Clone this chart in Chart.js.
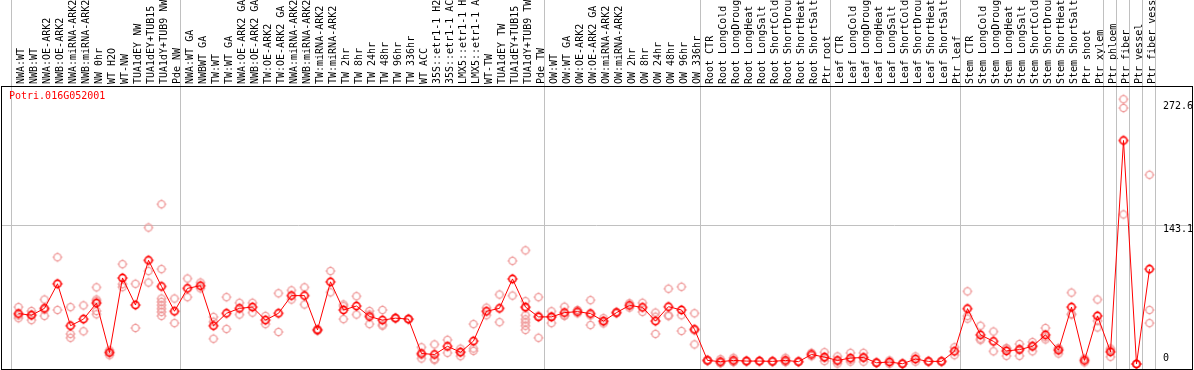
<!DOCTYPE html>
<html><head><meta charset="utf-8">
<script src="https://cdn.jsdelivr.net/npm/chart.js@4/dist/chart.umd.min.js"></script>
<style>html,body{margin:0;padding:0;background:#fff;overflow:hidden}#wrap{width:1194px;height:370px;position:relative}</style>
</head><body><div id="wrap"><canvas id="c"></canvas></div>
<script>
const geneName = 'Potri.016G052001';
const categories = [
 'NWA:WT','NWB:WT','NWA:OE-ARK2','NWB:OE-ARK2','NWA:miRNA-ARK2','NWB:miRNA-ARK2','NW 0hr','WT H2O','WT-NW','TUA1dEY NW','TUA1dEY+TUB15','TUA1dY+TUB9 NW','Pde NW',
 'NWA:WT GA','NWBWT GA','TW:WT','TW:WT GA','NWA:OE-ARK2 GA','NWB:OE-ARK2 GA','TW:OE-ARK2','TW:OE-ARK2 GA','NWA:miRNA-ARK2','NWB:miRNA-ARK2','TW:miRNA-ARK2','TW:miRNA-ARK2',
 'TW 2hr','TW 8hr','TW 24hr','TW 48hr','TW 96hr','TW 336hr','WT ACC','35S::etr1-1 H2','35S::etr1-1 AC','LMX5::etr1-1 H','LMX5::etr1-1 A','WT-TW','TUA1dEY TW','TUA1dEY+TUB15','TUA1dY+TUB9 TW','Pde TW',
 'OW:WT','OW:WT GA','OW:OE-ARK2','OW:OE-ARK2 GA','OW:miRNA-ARK2','OW:miRNA-ARK2','OW 2hr','OW 8hr','OW 24hr','OW 48hr','OW 96hr','OW 336hr',
 'Root CTR','Root LongCold','Root LongDroug','Root LongHeat','Root LongSalt','Root ShortCold','Root ShortDrou','Root ShortHeat','Root ShortSalt','Ptr root',
 'Leaf CTR','Leaf LongCold','Leaf LongDroug','Leaf LongHeat','Leaf LongSalt','Leaf ShortCold','Leaf ShortDrou','Leaf ShortHeat','Leaf ShortSalt','Ptr leaf',
 'Stem CTR','Stem LongCold','Stem LongDroug','Stem LongHeat','Stem LongSalt','Stem ShortCold','Stem ShortDrou','Stem ShortHeat','Stem ShortSalt','Ptr shoot',
 'Ptr xylem','Ptr phloem','Ptr fiber','Ptr vessel','Ptr fiber vess'
];
const meanValues = [
 51.9,50.2,57.3,82.6,39.4,46.2,62.7,11.8,88.6,60.7,106.8,79.9,54.3,
 77.9,80.6,39.4,52.2,57.3,58.6,45.2,52.2,70.4,70.4,35.1,84.6,
 55.6,59.7,48.9,45.2,47.2,46.2,10.8,9.8,18.2,12.1,23.6,54.3,57.3,87.6,58.6,48.5,
 48.5,52.9,53.9,51.9,44.2,52.9,60.3,58.3,44.2,59.0,55.6,35.7,
 3.7,2.4,3.7,3.0,3.0,2.7,3.7,2.4,9.8,7.1,
 3.7,6.1,6.7,1.3,2.0,0.3,5.1,2.7,2.7,13.1,
 57.0,30.0,23.3,13.5,14.8,18.2,30.0,14.2,58.6,3.7,
 49.5,12.5,230.1,0,97.7
];
const replicates = [
 [58.6,47.2,50],[54.6,45.2,50.8],[66.4,49.5,56],[109.9,55.6],[58.6,31.0,27.0],[60.3,33.7],[78.9,66.4,64.7,54.6,51.2],[14.2,9.1,12],[102.8,82.2,79.2],[82.6,37.1],[140.5,95.7,83.9],[164.5,97.7,67.4,64,60.5,57,53.6,49.5],[67.4,42.1],
 [88.0,68.8],[83.9,77.9],[48.5,26.0,43.5],[68.8,36.1],[63.0,50.9],[63.0,52.9],[49.5,41.1],[72.8,33.0],[75.8,66.4],[78.9,61.3],[34,36],[95.7,73.8],
 [61.3,46.2,59.5],[69.8,50.9],[54.6,41.1,51],[55.6,39.4,40.6],[47.5,47.0],[46.5,46.0],[17.2,5.7,9.5],[20.2,4.0,5.2],[24.9,11.5],[15.8,8.1,12.4],[41.1,13.5,16],[58.0,50.2],[71.5,43.1],[106.2,70.4],[117,64.7,58,50.2,46,42.8,39.4,35.1],[68.8,27.0,49.7],
 [54.3,42.1,49],[59.0,49.5,50.2],[55.6,52.2],[65.7,40.1,50],[47.2,41.8,43.6],[53.5,52.3],[58.0,62.6],[63.0,53.6],[52.9,31.0,48.7],[77.5,50.2,49.3],[79.5,50.2,34.0],[52.2,20.2,34.7],
 [4.0,3.4,3.7],[5.0,1.0,1.2],[6.4,2.0,2.7],[3.5,2.5],[3.3,2.7],[3.0,2.4],[6.4,2.0,2.7],[2.8,2.0],[11.5,8.1],[12.1,3.0,6.2],
 [7.8,0.5,2.8],[11.5,2.4,4.4],[11.5,2.4,6.2],[1.5,1.1],[3.7,0.3],[0.4,0.2],[7.8,2.4],[3.0,2.4],[3.0,2.4],[17.2,9.1],
 [74.8,49.5,46.7],[39.4,26.0,24.6],[33.4,13.1],[15.8,8.4,16.3],[20.6,8.4,15.4],[22.6,13.1,18.9],[37.1,25.3,27.6],[16.5,10.8,15.3],[73.5,50.9,51.4],[5.7,1.7],
 [66.4,44.5,37.6],[14.2,7.4,15.9],[272.6,263.6,154.0],[0,0],[194.8,55.6,42.1]
];
const yTicks = [0, 143.1, 272.6];
const yMax = 286.2;
const separators = [0, 13, 41, 53, 63, 73, 84, 85, 86, 87, 88];

const MONO = '"DejaVu Sans Mono", "Liberation Mono", monospace';

function marker(color, lw, r) {
  const s = 14, c = document.createElement('canvas');
  c.width = s; c.height = s;
  const g = c.getContext('2d');
  const m = s / 2;
  g.strokeStyle = color;
  g.lineWidth = lw;
  g.beginPath(); g.arc(m, m, r, 0, Math.PI * 2); g.stroke();
  g.lineWidth = 1;
  g.beginPath();
  g.moveTo(m, m - r - 1.6); g.lineTo(m, m - r);
  g.moveTo(m, m + r); g.lineTo(m, m + r + 1.6);
  g.moveTo(m - r - 1.6, m); g.lineTo(m - r, m);
  g.moveTo(m + r, m); g.lineTo(m + r + 1.6, m);
  g.stroke();
  return c;
}
const meanMarker = marker('#ff0000', 1.6, 3.6);
const repMarker = marker('#ee9494', 1.1, 3.5);

const repPoints = [];
replicates.forEach((arr, i) => arr.forEach(v => repPoints.push({x: i, y: v})));

const decor = {
  id: 'decor',
  beforeDatasetsDraw(chart) {
    const {ctx, scales: {x, y}} = chart;
    ctx.save();
    ctx.strokeStyle = '#c0c0c0';
    ctx.lineWidth = 1;
    ctx.beginPath();
    separators.forEach(k => {
      const px = Math.round(x.getPixelForValue(k - 0.5)) - 0.5;
      ctx.moveTo(px, 0); ctx.lineTo(px, 370);
    });
    const hy = Math.round(y.getPixelForValue(yTicks[1])) + 0.5;
    ctx.moveTo(1, hy); ctx.lineTo(1192, hy);
    ctx.stroke();
    ctx.restore();
  },
  afterDatasetsDraw(chart) {
    const {ctx, scales: {y}} = chart;
    ctx.save();
    ctx.font = '10px ' + MONO;
    ctx.textAlign = 'left';
    ctx.fillStyle = '#000';
    yTicks.forEach((v, i) => {
      const py = y.getPixelForValue(v);
      if (v === 0) { ctx.textBaseline = 'alphabetic'; ctx.fillText(String(v), 1163, py - 3.5); }
      else { ctx.textBaseline = 'top'; ctx.fillText(String(v), 1163, py + (i === yTicks.length - 1 ? 2.5 : -0.5)); }
    });
    ctx.fillStyle = '#ff0000';
    ctx.textBaseline = 'top';
    ctx.fillText(geneName, 9, 91);
    ctx.strokeStyle = '#000';
    ctx.lineWidth = 1;
    ctx.strokeRect(1.5, 86.5, 1191, 283);
    ctx.restore();
  }
};

new Chart(document.getElementById('c'), {
  type: 'line',
  data: {
    labels: categories,
    datasets: [
      {
        label: 'mean', data: meanValues, xAxisID: 'x', yAxisID: 'y',
        borderColor: '#ff0000', borderWidth: 1, tension: 0, fill: false,
        pointStyle: meanMarker, pointRadius: 5, clip: false
      },
      {
        type: 'scatter', label: 'replicates', data: repPoints, xAxisID: 'xr', yAxisID: 'y',
        showLine: false, pointStyle: repMarker, pointRadius: 5, clip: false
      }
    ]
  },
  options: {
    responsive: true, maintainAspectRatio: false, animation: false,
    layout: {padding: {left: 12, right: 0, top: 0, bottom: 1}},
    plugins: {legend: {display: false}, tooltip: {enabled: false}, title: {display: false}},
    scales: {
      x: {
        type: 'category', position: 'top', offset: true,
        grid: {display: false, drawTicks: false, offset: true},
        border: {display: false},
        ticks: {autoSkip: false, minRotation: 90, maxRotation: 90, padding: 2, labelOffset: 14.5, color: '#000',
                font: {family: MONO, size: 10}},
        afterFit(s) { s.height = 86; }
      },
      xr: {type: 'linear', display: false, min: -0.5, max: categories.length - 0.5},
      y: {
        position: 'right', min: 0, max: yMax,
        afterBuildTicks(s) { s.ticks = yTicks.map(v => ({value: v})); },
        grid: {display: false}, border: {display: false},
        ticks: {display: false},
        afterFit(s) { s.width = 38; }
      }
    }
  },
  plugins: [decor]
});
</script>
</body></html>
